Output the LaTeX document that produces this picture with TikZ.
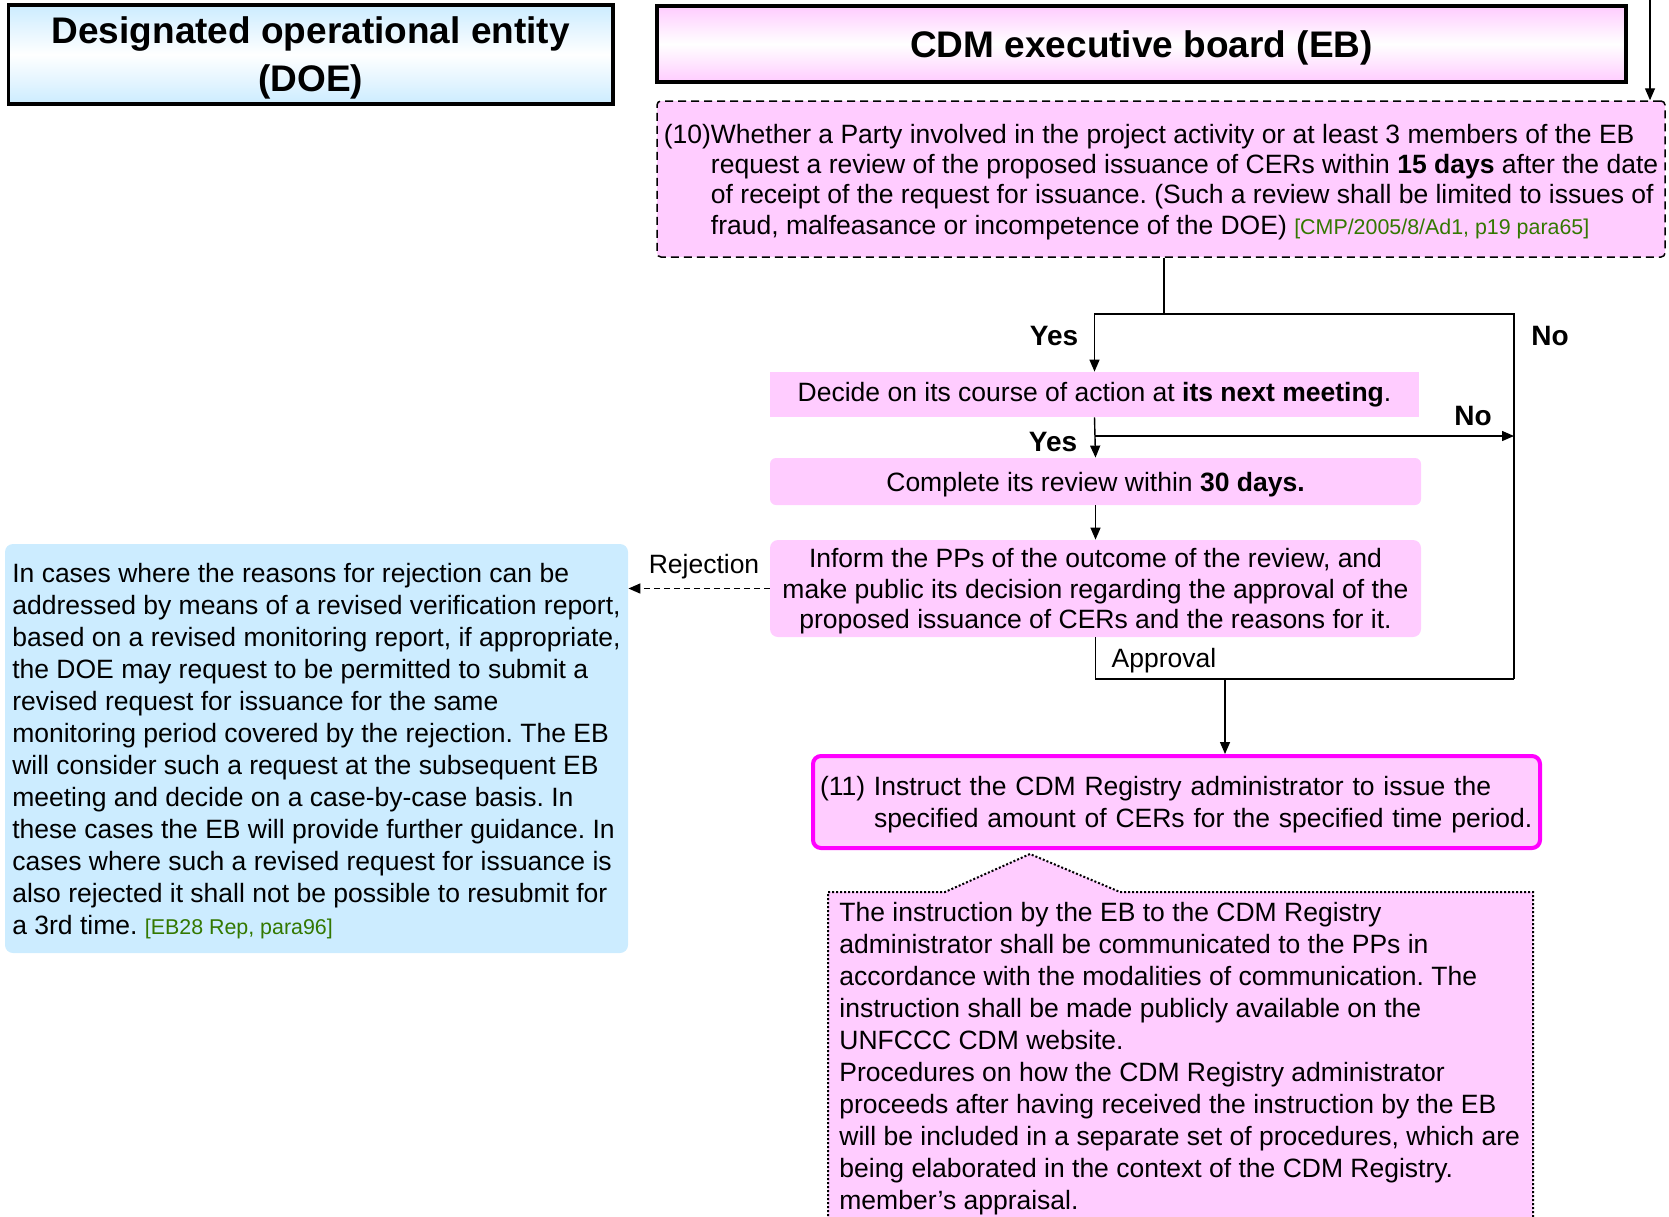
\documentclass[tikz,border=0pt]{standalone}
\usepackage{fontspec}
\setmainfont{Liberation Sans}
\usetikzlibrary{arrows.meta}
\definecolor{boxpink}{RGB}{255,204,255}
\definecolor{boxblue}{RGB}{204,236,255}
\definecolor{refgreen}{RGB}{51,120,0}
\definecolor{edgemagenta}{RGB}{255,0,255}
\newcommand{\bodyfont}{\fontsize{13.25}{16}\selectfont}
\newcommand{\srcref}[1]{{\color{refgreen}\fontsize{10.7}{12}\selectfont #1}}
\frenchspacing
\begin{document}
\begin{tikzpicture}[x=0.5pt,y=-0.5pt,
  arr/.style={-{Triangle[length=6pt,width=5pt]}, line width=0.7pt},
  link/.style={line width=0.7pt},
  pinkbox/.style={fill=boxpink, inner sep=0pt},
  title/.style={draw=black, line width=1.6pt, inner sep=0pt, align=center,
    font=\fontsize{18.5}{24}\selectfont\bfseries},
  tag/.style={inner sep=0pt, font=\fontsize{14}{16}\selectfont\bfseries}]
  \path[use as bounding box] (0,0) rectangle (1669,1216);
  \clip (0,0) rectangle (1669,1216);

  % Headers
  \node[title, top color=boxblue, bottom color=boxblue, middle color=white,
    minimum width=302.25pt, minimum height=49.5pt, text depth=0pt] (doe) at (310.75,54.5)
    {Designated operational entity\\(DOE)};
  \node[title, top color=boxpink, bottom color=boxpink, middle color=white,
    minimum width=484.5pt, minimum height=38pt, text depth=0pt] (eb) at (1141.5,44)
    {CDM executive board (EB)};

  % Review steps
  \node[pinkbox, draw, line width=0.75pt, dash pattern=on 4pt off 2.5pt,
    rounded corners=2pt, minimum width=504pt, minimum height=78pt, align=left,
    text depth=0pt, font=\fontsize{13.25}{15.2}\selectfont] (request) at (1161,179)
    {(10)Whether a Party involved in the project activity or at least 3 members of the EB\\
     \hphantom{(10)}request a review of the proposed issuance of CERs within \textbf{15 days} after the date\\
     \hphantom{(10)}of receipt of the request for issuance. (Such a review shall be limited to issues of\\
     \hphantom{(10)}fraud, malfeasance or incompetence of the DOE) \srcref{[CMP/2005/8/Ad1, p19 para65]}};
  \node[pinkbox, minimum width=324.5pt, minimum height=22.5pt, font=\bodyfont]
    (meeting) at (1094.5,394.5) {Decide on its course of action at \textbf{its next meeting}.};
  \node[pinkbox, rounded corners=3pt, minimum width=325.5pt, minimum height=23.5pt,
    text depth=0pt, font=\bodyfont] (review) at (1095.5,481.5)
    {Complete its review within \textbf{30 days.}};
  \node[pinkbox, rounded corners=4pt, minimum width=325.5pt, minimum height=48.5pt,
    align=center, text depth=0pt, font=\fontsize{13.25}{15.3}\selectfont] (inform) at (1095.5,588.5)
    {Inform the PPs of the outcome of the review, and\\
     make public its decision regarding the approval of the\\
     proposed issuance of CERs and the reasons for it.};
  \node[fill=boxblue, rounded corners=4pt, inner sep=0pt, minimum width=311.5pt,
    minimum height=204.5pt, align=left, text depth=0pt, font=\bodyfont] (resubmit) at (316.5,748.5)
    {In cases where the reasons for rejection can be\\
     addressed by means of a revised verification report,\\
     based on a revised monitoring report, if appropriate,\\
     the DOE may request to be permitted to submit a\\
     revised request for issuance for the same\\
     monitoring period covered by the rejection. The EB\\
     will consider such a request at the subsequent EB\\
     meeting and decide on a case-by-case basis. In\\
     these cases the EB will provide further guidance. In\\
     cases where such a revised request for issuance is\\
     also rejected it shall not be possible to resubmit for\\
     a 3rd time. \srcref{[EB28 Rep, para96]}};
  \node[pinkbox, draw=edgemagenta, line width=2pt, rounded corners=4pt,
    minimum width=363.5pt, minimum height=46pt, text width=356.5pt,
    inner xsep=3.5pt, align=left, text depth=16pt, font=\bodyfont] (instruct) at (1176.5,802)
    {(11) Instruct the CDM Registry administrator to issue the\\
     \hphantom{(11) }specified amount of CERs for the specified time period.};

  % Callout below step 11
  \draw[fill=boxpink, line width=1pt, dash pattern=on 1pt off 1pt]
    (828,1240) -- (828,892) -- (945,892) -- (1030,854) -- (1120,892)
    -- (1533,892) -- (1533,1240);
  \node[anchor=west, inner sep=0pt, align=left, text depth=0pt, font=\bodyfont] (note) at (839,1056)
    {The instruction by the EB to the CDM Registry\\
     administrator shall be communicated to the PPs in\\
     accordance with the modalities of communication. The\\
     instruction shall be made publicly available on the\\
     UNFCCC CDM website.\\
     Procedures on how the CDM Registry administrator\\
     proceeds after having received the instruction by the EB\\
     will be included in a separate set of procedures, which are\\
     being elaborated in the context of the CDM Registry.\\
     member’s appraisal.};

  % Connectors
  \coordinate (fork) at (1164,314);
  \coordinate (nocorner) at (1514,314);
  \coordinate (nojoin) at (1514,436);
  \coordinate (merge) at (1514,679);
  \coordinate (drop) at (1225,679);
  \coordinate (incoming) at (1650,0);
  \draw[arr] (incoming) -- (incoming |- request.north);
  \draw[link] (fork |- request.south) -- (fork);
  \draw[arr] (fork) -| (meeting.north);
  \draw[link] (fork) -- (nocorner) -- (merge);
  \draw[arr] (meeting.south) -- (review.north);
  \draw[arr] (meeting.south |- nojoin) -- (nojoin);
  \draw[arr] (review.south) -- (inform.north);
  \draw[arr, line width=0.8pt, dash pattern=on 3pt off 2pt] (inform.west) -- (inform.west -| resubmit.east);
  \draw[link] (inform.south) |- (merge);
  \draw[arr] (drop) -- (drop |- instruct.north);

  % Labels
  \node[tag] (yes1) at (1054,336) {Yes};
  \node[tag] (no1) at (1550,336) {No};
  \node[tag] (yes2) at (1053,442) {Yes};
  \node[tag] (no2) at (1473,416) {No};
  \node[inner sep=0pt, text depth=0pt, font=\bodyfont] (rejlabel) at (704,564) {Rejection};
  \node[inner sep=0pt, text depth=0pt, font=\bodyfont] (applabel) at (1164,658) {Approval};
\end{tikzpicture}
\end{document}
